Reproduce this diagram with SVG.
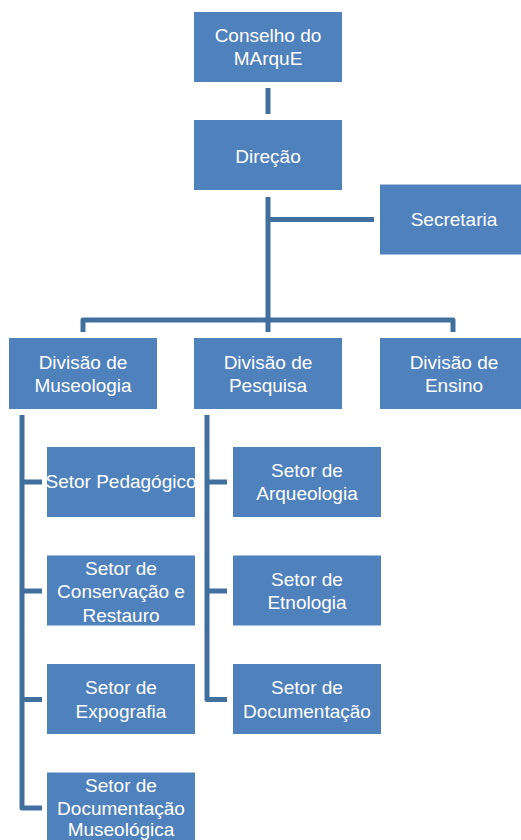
<svg xmlns="http://www.w3.org/2000/svg" width="521" height="840" viewBox="0 0 521 840">
<style>
.box{fill:#4F81BD}
.t{font-family:"Liberation Sans",Arial,sans-serif;font-size:19px;fill:#ffffff;text-anchor:middle}
.ln{fill:none;stroke:#41709F;stroke-width:5;stroke-linejoin:round;stroke-linecap:butt}
</style>
<rect width="521" height="840" fill="#ffffff"/>
<g id="connectors">
<path class="ln" d="M268,88 V114"/>
<path class="ln" d="M268,197 V332"/>
<path class="ln" d="M268,219.5 H374"/>
<path class="ln" d="M83,332 V320 H453 V332"/>
<path class="ln" d="M22,415 V808 H42"/>
<path class="ln" d="M22,482 H42"/>
<path class="ln" d="M22,591 H42"/>
<path class="ln" d="M22,699.5 H42"/>
<path class="ln" d="M207,415 V699.5 H227"/>
<path class="ln" d="M207,482 H227"/>
<path class="ln" d="M207,591 H227"/>
</g>
<g id="conselho"><rect class="box" x="194" y="12" width="148" height="70"/><text class="t" x="268" y="41.5">Conselho do</text><text class="t" x="268" y="65">MArquE</text></g>
<g id="direcao"><rect class="box" x="194" y="120" width="148" height="70"/><text class="t" x="268" y="162.5">Direção</text></g>
<g id="secretaria"><rect class="box" x="380" y="184.5" width="148" height="70"/><text class="t" x="454" y="226">Secretaria</text></g>
<g id="div-museologia"><rect class="box" x="9" y="338" width="148" height="71"/><text class="t" x="83" y="369">Divisão de</text><text class="t" x="83" y="391.5">Museologia</text></g>
<g id="div-pesquisa"><rect class="box" x="194" y="338" width="148" height="71"/><text class="t" x="268" y="369">Divisão de</text><text class="t" x="268" y="391.5">Pesquisa</text></g>
<g id="div-ensino"><rect class="box" x="380" y="338" width="148" height="71"/><text class="t" x="454" y="369">Divisão de</text><text class="t" x="454" y="391.5">Ensino</text></g>
<g id="setor-pedagogico"><rect class="box" x="47" y="447" width="148" height="70"/><text class="t" x="121" y="488">Setor Pedagógico</text></g>
<g id="setor-conservacao"><rect class="box" x="47" y="555.5" width="148" height="70"/><text class="t" x="121" y="575">Setor de</text><text class="t" x="121" y="598">Conservação e</text><text class="t" x="121" y="621.5">Restauro</text></g>
<g id="setor-expografia"><rect class="box" x="47" y="664" width="148" height="70"/><text class="t" x="121" y="694">Setor de</text><text class="t" x="121" y="717.5">Expografia</text></g>
<g id="setor-doc-museologica"><rect class="box" x="47" y="772.5" width="148" height="70"/><text class="t" x="121" y="791.5">Setor de</text><text class="t" x="121" y="814.5">Documentação</text><text class="t" x="121" y="836">Museológica</text></g>
<g id="setor-arqueologia"><rect class="box" x="233" y="447" width="148" height="70"/><text class="t" x="307" y="476.5">Setor de</text><text class="t" x="307" y="500">Arqueologia</text></g>
<g id="setor-etnologia"><rect class="box" x="233" y="555.5" width="148" height="70"/><text class="t" x="307" y="585.5">Setor de</text><text class="t" x="307" y="609">Etnologia</text></g>
<g id="setor-documentacao"><rect class="box" x="233" y="664" width="148" height="70"/><text class="t" x="307" y="694">Setor de</text><text class="t" x="307" y="717.5">Documentação</text></g>
</svg>
